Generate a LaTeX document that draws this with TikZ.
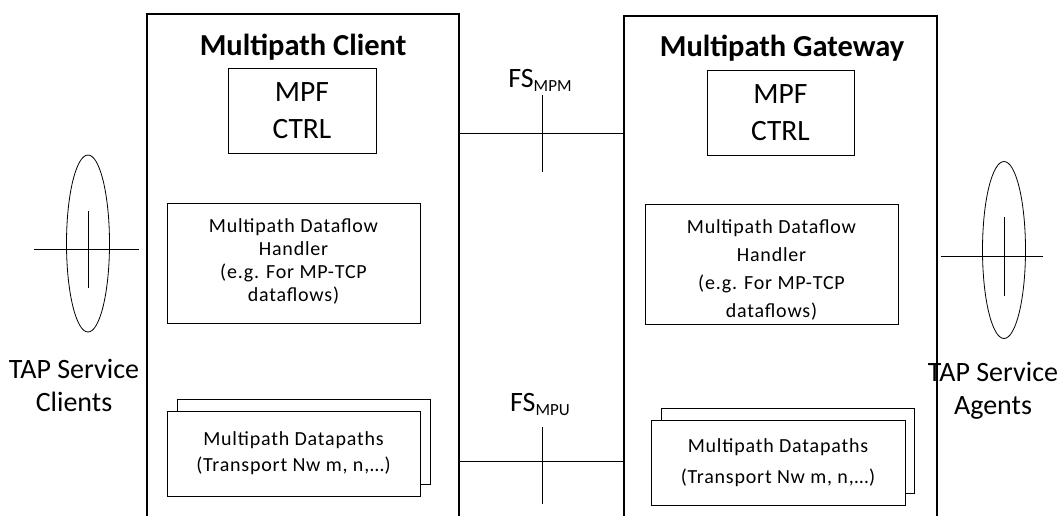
\documentclass[tikz,border=0pt]{standalone}
\usepackage{fontspec}
\setmainfont{Carlito}
\newfontfamily\loosefont{Carlito}[LetterSpace=4]
\usetikzlibrary{shapes.geometric}

\begin{document}
\begin{tikzpicture}[x=1pt, y=-1pt,
  every node/.style = {inner sep=0pt, font=\fontsize{28}{33}\selectfont, align=center},
  frame/.style = {draw, line width=1.1pt, minimum width=#1, minimum height=530},
  box/.style = {draw, line width=0.8pt, fill=white},
  small/.style = {font=\loosefont\fontsize{20}{#1}\selectfont},
  title/.style = {font=\bfseries\fontsize{30.5}{35}\selectfont},
  tap/.style = {draw, ellipse, line width=0.8pt, minimum width=43, minimum height=177},
  link/.style = {line width=0.9pt}
  ]
  \clip (0,0) rectangle (1061,515);
  \node[frame=312] (client) at (303,279) {};
  \node[frame=313] (gateway) at (780.5,281) {};
  \node[title] (clienttitle) at (303,47) {Multipath Client};
  \node[title] (gatewaytitle) at (782,48) {Multipath Gateway};
  \node[box, minimum width=148, minimum height=85, font=\fontsize{29.5}{37}\selectfont] (ctrlc) at (302,110.5) {MPF\\CTRL};
  \node[box, minimum width=147, minimum height=85, font=\fontsize{29.5}{37}\selectfont] (ctrlg) at (780.5,112.5) {MPF\\CTRL};
  \node[box, minimum width=253, minimum height=120] (flowc) at (293.5,263) {};
  \node[box, minimum width=253, minimum height=120] (flowg) at (771.5,264) {};
  \node[small=23, anchor=north] (flowctext) at ([yshift=-16]flowc.north) {Multipath Dataflow\\Handler\\(e.g. For MP-TCP\\dataflows)};
  \node[small=28, anchor=north] (flowgtext) at ([yshift=-16]flowg.north) {Multipath Dataflow\\Handler\\(e.g. For MP-TCP\\dataflows)};
  \node[box, minimum width=253, minimum height=85] (pathcback) at (303.5,441.5) {};
  \node[box, minimum width=253, minimum height=85, small=26] (pathc) at (293.5,453.5) {Multipath Datapaths\\(Transport Nw m, n,\ldots)};
  \node[box, minimum width=253, minimum height=85] (pathgback) at (787.5,450.5) {};
  \node[box, minimum width=254, minimum height=85, small=31] (pathg) at (778,462.5) {Multipath Datapaths\\(Transport Nw m, n,\ldots)};
  \node[tap] (tapc) at (88,243.5) {};
  \node[tap] (tapg) at (1004,250) {};
  \node (tapclabel) at (74,385) {TAP Service\\Clients};
  \node (tapglabel) at (993,391) {TAP Service\\Agents};
  \coordinate (crossc) at (88,249);
  \coordinate (crossg) at (1004,256);
  \draw[link] (crossc) ++(-54,0) -- ++(105,0);
  \draw[link] (crossc |- 0,211) -- (crossc |- 0,288);
  \draw[link] (crossg) ++(-63,0) -- ++(102,0);
  \draw[link] (crossg |- 0,217) -- (crossg |- 0,296);
  \coordinate (mpm) at (542,133);
  \coordinate (mpu) at (542,461);
  \node (fsmpm) at (540,80) {FS\raisebox{-4pt}{\fontsize{17}{20}\selectfont MPM}};
  \node (fsmpu) at (540,404) {FS\raisebox{-4pt}{\fontsize{17}{20}\selectfont MPU}};
  \draw[link] (client.east |- mpm) -- (gateway.west |- mpm);
  \draw[link] (client.east |- mpu) -- (gateway.west |- mpu);
  \draw[link] ([yshift=38]mpm) -- ([yshift=-39]mpm);
  \draw[link] ([yshift=34]mpu) -- ([yshift=-43]mpu);
\end{tikzpicture}
\end{document}
